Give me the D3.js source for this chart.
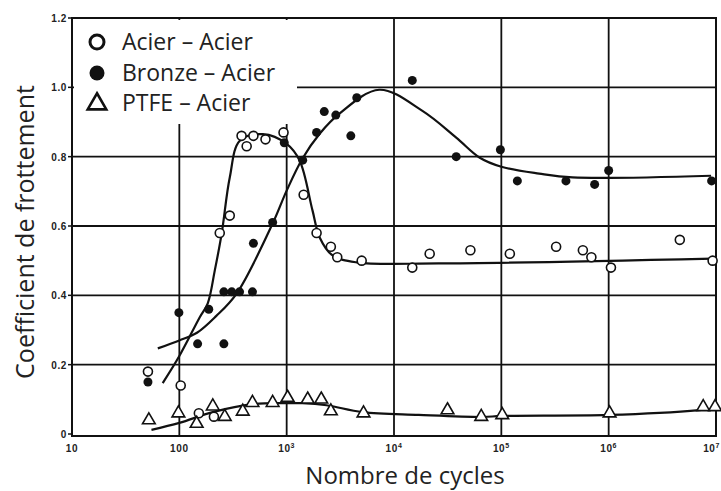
<!DOCTYPE html>
<html lang="fr">
<head>
    <meta charset="UTF-8">
    <title>Coefficient de frottement</title>
    <script src="https://cdn.jsdelivr.net/npm/d3@7"></script>
    <style>
      body { margin: 0; background: white; }
      #chart text { fill: #222; }
      .tick-lab { font: bold 10px "Liberation Sans", sans-serif; letter-spacing: 0.6px; }
      .title { font: 25px "Open Sans", sans-serif; }
      .leg { font: 23px "Open Sans", sans-serif; }
    </style>
</head>
<body>
<div id="chart"></div>
<script>
   // points : [cycles, coefficient]
   var acierPts = [[51,0.18],[103,0.14],[152,0.06],[210,0.05],[238,0.58],[295,0.63],[380,0.86],[424,0.83],
      [490,0.86],[635,0.85],[935,0.87],[1440,0.69],[1900,0.58],[2580,0.54],[2960,0.51],[5000,0.50],
      [14800,0.48],[21500,0.52],[51500,0.53],[120000,0.52],[324000,0.54],[575000,0.53],[690000,0.51],
      [1050000,0.48],[4600000,0.56],[9300000,0.50]];
   var bronzePts = [[51,0.15],[99,0.35],[148,0.26],[188,0.36],[260,0.26],[260,0.41],[308,0.41],[364,0.41],
      [480,0.41],[490,0.55],[740,0.61],[950,0.84],[1410,0.79],[1900,0.87],[2240,0.93],[2870,0.92],
      [3960,0.86],[4500,0.97],[14800,1.02],[38000,0.80],[98000,0.82],[141000,0.73],[400000,0.73],
      [740000,0.72],[1000000,0.76],[9100000,0.73]];
   var ptfePts = [[52,0.04],[98,0.06],[145,0.03],[205,0.08],[265,0.05],[390,0.065],[480,0.09],[740,0.09],
      [1020,0.105],[1570,0.10],[2100,0.10],[2580,0.066],[5200,0.06],[31500,0.069],[65000,0.05],
      [102000,0.055],[1020000,0.06],[7600000,0.078],[9800000,0.078]];

   // courbes tracées à la main sur l'original
   var acierCurve = [[70,0.147],[100,0.225],[155,0.337],[184,0.377],[214,0.472],[248,0.578],[295,0.74],
      [366,0.846],[600,0.865],[1000,0.837],[1320,0.789],[1740,0.645],[2030,0.567],[2680,0.515],
      [4500,0.495],[26000,0.492],[9300000,0.506]];
   var bronzeCurve = [[63,0.247],[100,0.27],[146,0.292],[220,0.34],[343,0.406],[740,0.607],[1000,0.702],
      [1400,0.794],[2030,0.866],[3100,0.924],[7300,0.993],[18400,0.932],[38000,0.855],[63000,0.797],
      [100000,0.771],[225000,0.751],[460000,0.74],[9000000,0.745]];
   var ptfeCurve = [[55,0.012],[100,0.032],[205,0.063],[480,0.086],[1000,0.089],[1400,0.089],[2350,0.083],
      [5100,0.063],[17000,0.055],[67000,0.049],[100000,0.052],[1000000,0.055],[7000000,0.069],[10000000,0.075]];

   var xTicks = [10, 100, 1e3, 1e4, 1e5, 1e6, 1e7];
   var xExp = ["", "", "3", "4", "5", "6", "7"];
   var xBase = ["10", "100", "10", "10", "10", "10", "10"];
   var yTicks = [0, 0.2, 0.4, 0.6, 0.8, 1.0, 1.2];
   var yLabels = ["0", "0.2", "0.4", "0.6", "0.8", "1.0", "1.2"];
   var legendNames = ["Acier \u2013 Acier", "Bronze \u2013 Acier", "PTFE \u2013 Acier"];

   var svg = d3.select("#chart").append("svg").attr("width", 721).attr("height", 491);

   var x = d3.scaleLog().domain([10, 1e7]).range([72, 716]);
   var y = d3.scaleLinear().domain([0, 1.2]).range([434, 18]);

   // grille
   svg.selectAll(".hgrid")
      .data(yTicks.slice(1, 6))
      .enter().append("line")
      .attr("x1", 72).attr("x2", 716)
      .attr("y1", function(d) { return y(d); })
      .attr("y2", function(d) { return y(d); })
      .attr("stroke", "#111").attr("stroke-width", 1.8);

   svg.selectAll(".vgrid")
      .data(xTicks.slice(1, 6))
      .enter().append("line")
      .attr("x1", function(d) { return x(d); })
      .attr("x2", function(d) { return x(d); })
      .attr("y1", 18).attr("y2", 436)
      .attr("stroke", "#111").attr("stroke-width", 1.8);

   // cadre
   svg.append("rect")
      .attr("x", 72).attr("y", 18).attr("width", 644).attr("height", 418)
      .attr("fill", "none").attr("stroke", "#111").attr("stroke-width", 2);

   // fond blanc de la légende
   svg.append("rect")
      .attr("x", 74).attr("y", 20).attr("width", 223).attr("height", 104)
      .attr("fill", "white");

   // étiquettes des axes
   svg.selectAll(".ylab")
      .data(yTicks)
      .enter().append("text")
      .attr("class", "tick-lab")
      .attr("x", 67)
      .attr("y", function(d) { return y(d) + 4; })
      .attr("text-anchor", "end")
      .text(function(d, i) { return yLabels[i]; });

   svg.selectAll(".ytick")
      .data(yTicks)
      .enter().append("line")
      .attr("x1", 68).attr("x2", 72)
      .attr("y1", function(d) { return y(d); })
      .attr("y2", function(d) { return y(d); })
      .attr("stroke", "#111").attr("stroke-width", 1.5);

   var xl = svg.selectAll(".xlab")
      .data(xTicks)
      .enter().append("text")
      .attr("class", "tick-lab")
      .attr("x", function(d, i) { return i == xTicks.length - 1 ? 720 : x(d); })
      .attr("y", 452)
      .attr("text-anchor", function(d, i) { return i == xTicks.length - 1 ? "end" : "middle"; });
   xl.append("tspan").text(function(d, i) { return xBase[i]; });
   xl.append("tspan")
      .attr("dy", -4)
      .attr("font-size", "7px")
      .text(function(d, i) { return xExp[i]; });

   svg.append("text")
      .attr("class", "title")
      .attr("x", 405).attr("y", 484)
      .attr("text-anchor", "middle")
      .style("font-size", "24px")
      .text("Nombre de cycles");

   svg.append("text")
      .attr("class", "title")
      .attr("transform", "translate(34,232) rotate(-90)")
      .attr("text-anchor", "middle")
      .text("Coefficient de frottement");

   // courbes
   var line = d3.line()
      .x(function(d) { return x(d[0]); })
      .y(function(d) { return y(d[1]); })
      .curve(d3.curveCatmullRom.alpha(0.5));

   [acierCurve, bronzeCurve, ptfeCurve].forEach(function(c) {
      svg.append("path")
         .attr("d", line(c))
         .attr("fill", "none")
         .attr("stroke", "#111")
         .attr("stroke-width", 2.2);
   });

   // points
   svg.selectAll(".acier")
      .data(acierPts)
      .enter().append("circle")
      .attr("cx", function(d) { return x(d[0]); })
      .attr("cy", function(d) { return y(d[1]); })
      .attr("r", 4.5)
      .attr("fill", "white").attr("stroke", "#111").attr("stroke-width", 1.6);

   svg.selectAll(".bronze")
      .data(bronzePts)
      .enter().append("circle")
      .attr("cx", function(d) { return x(d[0]); })
      .attr("cy", function(d) { return y(d[1]); })
      .attr("r", 4.5)
      .attr("fill", "#111");

   var tri = d3.symbol().type(d3.symbolTriangle).size(70);
   svg.selectAll(".ptfe")
      .data(ptfePts)
      .enter().append("path")
      .attr("d", tri)
      .attr("transform", function(d) { return "translate(" + x(d[0]) + "," + y(d[1]) + ")"; })
      .attr("fill", "white").attr("stroke", "#111").attr("stroke-width", 1.6);

   // légende
   var ly = [42, 73, 103];
   svg.append("circle").attr("cx", 97).attr("cy", ly[0]).attr("r", 7)
      .attr("fill", "white").attr("stroke", "#111").attr("stroke-width", 3);
   svg.append("circle").attr("cx", 97).attr("cy", ly[1]).attr("r", 7.5).attr("fill", "#111");
   svg.append("path").attr("d", d3.symbol().type(d3.symbolTriangle).size(150))
      .attr("transform", "translate(97," + (ly[2] + 1) + ")")
      .attr("fill", "white").attr("stroke", "#111").attr("stroke-width", 2.6);

   svg.selectAll(".leg")
      .data(legendNames)
      .enter().append("text")
      .attr("class", "leg")
      .attr("x", 122)
      .attr("y", function(d, i) { return ly[i] + 8; })
      .text(function(d) { return d; });
</script>
</body>
</html>
